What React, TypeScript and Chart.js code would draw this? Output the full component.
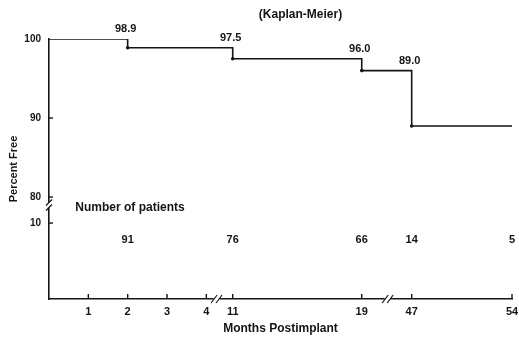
import React, { useEffect, useRef } from "react";
import { Chart, registerables } from "chart.js";

Chart.register(...registerables);

// ---- data ----
const months = [0, 2, 11, 19, 47, 54];
const percentFree = [100, 98.9, 97.5, 96.0, 89.0, 89.0];
const stepLabels = ["", "98.9", "97.5", "96.0", "89.0", ""];
const patientMonths = [2, 11, 19, 47, 54];
const patientCounts = ["91", "76", "66", "14", "5"];
const xTickMonths = [1, 2, 3, 4, 11, 19, 47, 54];
const yTickValues = [100, 90, 80];
const lowerTickValues = [10];
const titleText = "(Kaplan-Meier)";
const tableTitle = "Number of patients";

// ---- broken x axis: month ranges -> axis units ----
const xSegments = [
  { from: 0, to: 4, start: 0, end: 4 },
  { from: 11, to: 19, start: 4.67, end: 7.95 },
  { from: 47, to: 54, start: 9.22, end: 11.77 },
];
const xBreakUnits = [4.26, 8.61];
function monthToAxis(m: number): number {
  for (const s of xSegments) {
    if (m >= s.from && m <= s.to) return s.start + ((m - s.from) * (s.end - s.start)) / (s.to - s.from);
  }
  for (let i = 0; i < xSegments.length - 1; i++) {
    const a = xSegments[i], b = xSegments[i + 1];
    if (m > a.to && m < b.from) return a.end + ((m - a.to) * (b.start - a.end)) / (b.from - a.to);
  }
  return m;
}
// ---- broken y axis: lower panel (0..10) sits under the 80..100 panel ----
const lowerOffset = 66.71;
const yMin = 67.1;
const yBreak = 79;
const lowerToAxis = (v: number) => v + lowerOffset;
const patientRowLower = 7.9;
const tableTitleLower = 11.9;
const tableTitleMonth = 0.67;

const INK = "#151515";
const FONT = "'Liberation Sans', Arial, sans-serif";

const overlay = {
  id: "kmOverlay",
  afterDatasetsDraw(chart: any) {
    const { ctx, chartArea } = chart;
    const xs = chart.scales.x, ys = chart.scales.y;
    const left = chartArea.left, bottom = chartArea.bottom;
    ctx.save();
    ctx.strokeStyle = INK;
    ctx.fillStyle = INK;
    ctx.lineWidth = 1.4;
    // inward ticks
    for (const m of xTickMonths) {
      const px = xs.getPixelForValue(monthToAxis(m));
      ctx.beginPath(); ctx.moveTo(px, bottom); ctx.lineTo(px, bottom - 5); ctx.stroke();
    }
    for (const v of [...yTickValues.slice(1), ...lowerTickValues.map(lowerToAxis)]) {
      const py = ys.getPixelForValue(v);
      ctx.beginPath(); ctx.moveTo(left, py); ctx.lineTo(left + 4, py); ctx.stroke();
    }
    // breaks
    const drawBreakY = (py: number) => {
      ctx.save();
      ctx.fillStyle = "#fff";
      ctx.fillRect(left - 2, py - 3, 4, 6);
      ctx.strokeStyle = INK; ctx.lineWidth = 1.2;
      for (const d of [-2.5, 2.5]) {
        ctx.beginPath(); ctx.moveTo(left - 3, py + d + 3); ctx.lineTo(left + 3, py + d - 3); ctx.stroke();
      }
      ctx.restore();
    };
    const drawBreakX = (px: number) => {
      ctx.save();
      ctx.fillStyle = "#fff";
      ctx.fillRect(px - 3, bottom - 2, 6, 4);
      ctx.strokeStyle = INK; ctx.lineWidth = 1.2;
      for (const d of [-2.5, 2.5]) {
        ctx.beginPath(); ctx.moveTo(px + d - 3, bottom + 4); ctx.lineTo(px + d + 3, bottom - 4); ctx.stroke();
      }
      ctx.restore();
    };
    drawBreakY(ys.getPixelForValue(yBreak));
    xBreakUnits.forEach((u) => drawBreakX(xs.getPixelForValue(u)));

    // step value labels
    ctx.font = `bold 11px ${FONT}`;
    ctx.textAlign = "center";
    ctx.textBaseline = "middle";
    for (let i = 1; i < months.length; i++) {
      if (!stepLabels[i]) continue;
      const px = xs.getPixelForValue(monthToAxis(months[i]));
      const py = ys.getPixelForValue(percentFree[i - 1]);
      ctx.fillText(stepLabels[i], px - 2, py - 10);
    }
    // patient table
    patientMonths.forEach((m, i) => {
      ctx.fillText(patientCounts[i], xs.getPixelForValue(monthToAxis(m)), ys.getPixelForValue(lowerToAxis(patientRowLower)));
    });
    ctx.font = `bold 12px ${FONT}`;
    ctx.textAlign = "left";
    ctx.fillText(tableTitle, xs.getPixelForValue(tableTitleMonth), ys.getPixelForValue(lowerToAxis(tableTitleLower)));
    // title
    ctx.textAlign = "center";
    ctx.fillText(titleText, (chartArea.left + chartArea.right) / 2 + 20, 15);
    ctx.restore();
  },
};

export default function App() {
  const ref = useRef<HTMLCanvasElement | null>(null);
  useEffect(() => {
    if (!ref.current) return;
    const chart = new Chart(ref.current, {
      type: "line",
      data: {
        datasets: [
          {
            data: months.map((m, i) => ({ x: monthToAxis(m), y: percentFree[i] })),
            stepped: "before",
            borderColor: INK,
            borderWidth: 1.6,
            pointRadius: months.map((_, i) => (i > 0 && i < months.length - 1 ? 1.8 : 0)),
            pointBackgroundColor: INK,
            pointBorderWidth: 0,
            fill: false,
          },
        ],
      },
      options: {
        responsive: false,
        animation: false,
        layout: { padding: { top: 39, right: 7, left: 0, bottom: 0 } },
        plugins: { legend: { display: false }, tooltip: { enabled: false }, title: { display: false } },
        scales: {
          x: {
            type: "linear",
            min: 0,
            max: monthToAxis(54),
            afterBuildTicks: (s: any) => {
              s.ticks = xTickMonths.map((m) => ({ value: monthToAxis(m) }));
            },
            afterFit: (s: any) => {
              s.height = 38;
              s.paddingRight = 0;
              s.paddingLeft = 0;
            },
            ticks: {
              autoSkip: false,
              maxRotation: 0,
              padding: 6,
              color: INK,
              font: { family: FONT, size: 11, weight: "bold" },
              callback: (_v: any, i: number) => String(xTickMonths[i]),
            },
            grid: { display: false, drawTicks: false },
            border: { display: true, color: INK, width: 1.6 },
            title: {
              display: true,
              text: "Months Postimplant",
              color: INK,
              font: { family: FONT, size: 12, weight: "bold" },
              padding: { top: 0, bottom: 1 },
            },
          },
          y: {
            type: "linear",
            min: yMin,
            max: 100,
            afterBuildTicks: (s: any) => {
              s.ticks = [...yTickValues, ...lowerTickValues.map(lowerToAxis)].map((v) => ({ value: v }));
            },
            afterFit: (s: any) => {
              s.width = 49;
              s.paddingTop = 0;
              s.paddingBottom = 0;
            },
            ticks: {
              autoSkip: false,
              padding: 8,
              color: INK,
              font: { family: FONT, size: 10, weight: "bold" },
              callback: (_v: any, i: number) =>
                i < yTickValues.length ? String(yTickValues[i]) : String(lowerTickValues[i - yTickValues.length]),
            },
            grid: { display: false, drawTicks: false },
            border: { display: true, color: INK, width: 1.6 },
            title: {
              display: true,
              text: "Percent Free",
              color: INK,
              font: { family: FONT, size: 11, weight: "bold" },
              padding: { top: 7, bottom: 0 },
            },
          },
        },
      },
      plugins: [overlay],
    } as any);
    return () => chart.destroy();
  }, []);
  return (
    <div style={{ position: "fixed", left: 0, top: 0, width: 519, height: 337, background: "#fff" }}>
      <canvas ref={ref} width={519} height={337} style={{ display: "block" }} />
    </div>
  );
}
